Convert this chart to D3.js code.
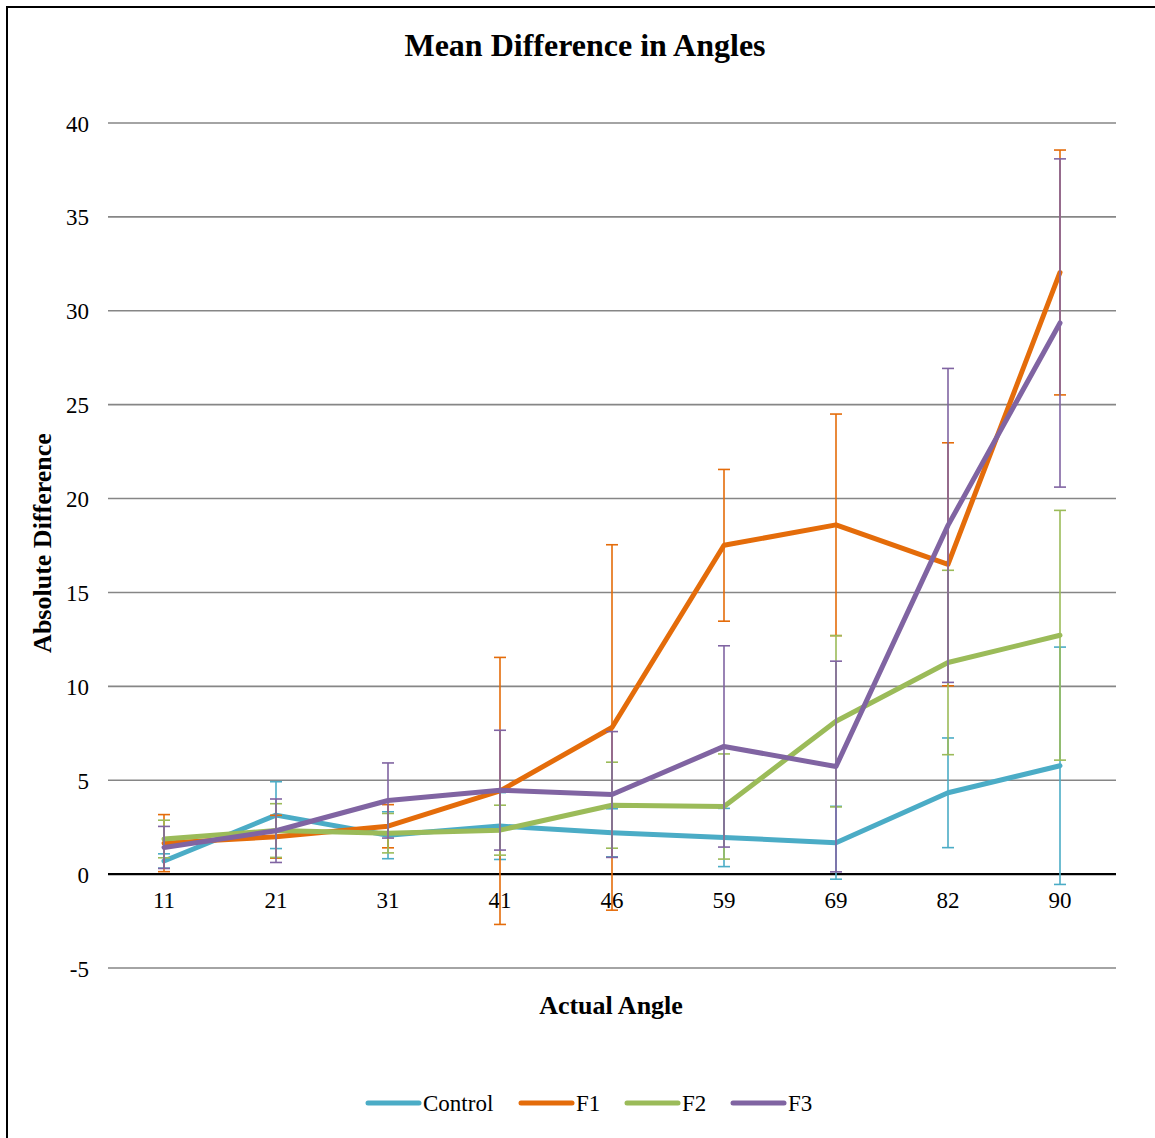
<!DOCTYPE html>
<html>
<head>
<meta charset="utf-8">
<script src="https://cdn.jsdelivr.net/npm/d3@7/dist/d3.min.js"></script>
<style>
  html, body { margin: 0; padding: 0; background: #fff; }
  svg { display: block; }
  text { font-family: "Liberation Serif", "Times New Roman", serif; fill: #000; }
</style>
</head>
<body>
<svg id="chart" width="1155" height="1138"></svg>
<script>
// ---- Data ----
const categories = ["11", "21", "31", "41", "46", "59", "69", "82", "90"];
const seriesNames = ["Control", "F1", "F2", "F3"];
const controlMean = [0.70, 3.14, 2.07, 2.56, 2.20, 1.95, 1.67, 4.33, 5.77];
const controlErr  = [0.38, 1.78, 1.25, 1.78, 1.28, 1.55, 1.94, 2.92, 6.32];
const f1Mean = [1.65, 1.99, 2.55, 4.43, 7.81, 17.51, 18.60, 16.50, 32.04];
const f1Err  = [1.52, 1.14, 1.15, 7.11, 9.73, 4.04, 5.90, 6.47, 6.52];
const f2Mean = [1.87, 2.32, 2.18, 2.34, 3.67, 3.60, 8.14, 11.27, 12.72];
const f2Err  = [1.00, 1.43, 1.05, 1.33, 2.29, 2.80, 4.56, 4.91, 6.65];
const f3Mean = [1.42, 2.31, 3.92, 4.47, 4.24, 6.80, 5.73, 18.57, 29.35];
const f3Err  = [1.12, 1.69, 2.00, 3.19, 3.35, 5.36, 5.61, 8.36, 8.74];
const yTicks = [-5, 0, 5, 10, 15, 20, 25, 30, 35, 40];
const colors = ["#4BACC6", "#E46C0A", "#9BBB59", "#8064A2"];

const series = [
  { name: seriesNames[0], mean: controlMean, err: controlErr, color: colors[0] },
  { name: seriesNames[1], mean: f1Mean, err: f1Err, color: colors[1] },
  { name: seriesNames[2], mean: f2Mean, err: f2Err, color: colors[2] },
  { name: seriesNames[3], mean: f3Mean, err: f3Err, color: colors[3] }
];

const svg = d3.select("#chart");

// outer border (chart area frame)
svg.append("rect")
  .attr("x", 7).attr("y", 7).attr("width", 1200).attr("height", 1200)
  .attr("fill", "none").attr("stroke", "#000").attr("stroke-width", 2);

const plot = { left: 108, right: 1116, top: 123, bottom: 968 };

const x = d3.scaleBand().domain(categories).range([plot.left, plot.right]).padding(0);
const y = d3.scaleLinear().domain([-5, 40]).range([plot.bottom, plot.top]);
const cx = c => x(c) + x.bandwidth() / 2;

// gridlines
const grid = svg.append("g");
grid.selectAll("line").data(yTicks.filter(t => t !== 0)).join("line")
  .attr("x1", plot.left).attr("x2", plot.right)
  .attr("y1", d => y(d)).attr("y2", d => y(d))
  .attr("stroke", "#868686").attr("stroke-width", 1.6);

// y axis labels via d3 axis
const yAxis = svg.append("g")
  .attr("transform", `translate(${plot.left - 19},0)`)
  .call(d3.axisLeft(y).tickValues(yTicks).tickSize(0).tickPadding(0).tickFormat(d => String(d)));
yAxis.select(".domain").remove();
yAxis.selectAll("text").attr("font-size", 23).attr("dy", "0.35em");

// zero line (category axis)
svg.append("line")
  .attr("x1", plot.left).attr("x2", plot.right)
  .attr("y1", y(0)).attr("y2", y(0))
  .attr("stroke", "#000").attr("stroke-width", 2.2);

// x axis labels
const xAxis = svg.append("g")
  .attr("transform", `translate(0,${y(0)})`)
  .call(d3.axisBottom(x).tickSize(0).tickPadding(18));
xAxis.select(".domain").remove();
xAxis.selectAll("text").attr("font-size", 23);

// series: error bars then line
const line = d3.line().x((d, i) => cx(categories[i])).y(d => y(d));
const capHalf = 6;
series.forEach(s => {
  const g = svg.append("g");
  const eb = g.selectAll("g.eb").data(categories.map((c, i) => ({ c, m: s.mean[i], e: s.err[i] }))).join("g");
  eb.append("line")
    .attr("x1", d => cx(d.c)).attr("x2", d => cx(d.c))
    .attr("y1", d => y(d.m + d.e)).attr("y2", d => y(d.m - d.e))
    .attr("stroke", s.color).attr("stroke-width", 1.6);
  eb.append("line")
    .attr("x1", d => cx(d.c) - capHalf).attr("x2", d => cx(d.c) + capHalf)
    .attr("y1", d => y(d.m + d.e)).attr("y2", d => y(d.m + d.e))
    .attr("stroke", s.color).attr("stroke-width", 1.6);
  eb.append("line")
    .attr("x1", d => cx(d.c) - capHalf).attr("x2", d => cx(d.c) + capHalf)
    .attr("y1", d => y(d.m - d.e)).attr("y2", d => y(d.m - d.e))
    .attr("stroke", s.color).attr("stroke-width", 1.6);
  g.append("path").datum(s.mean)
    .attr("d", line)
    .attr("fill", "none").attr("stroke", s.color).attr("stroke-width", 5)
    .attr("stroke-linecap", "round").attr("stroke-linejoin", "round");
});

// title
svg.append("text").attr("x", 585).attr("y", 56).attr("text-anchor", "middle")
  .attr("font-size", 32).attr("font-weight", "bold").text("Mean Difference in Angles");

// axis titles
svg.append("text").attr("x", 611).attr("y", 1014).attr("text-anchor", "middle")
  .attr("font-size", 26).attr("font-weight", "bold").text("Actual Angle");
svg.append("text").attr("transform", "translate(51,543) rotate(-90)").attr("text-anchor", "middle")
  .attr("font-size", 26).attr("font-weight", "bold").text("Absolute Difference");

// legend
const legendItems = [
  { x: 366, name: seriesNames[0], color: colors[0] },
  { x: 519, name: seriesNames[1], color: colors[1] },
  { x: 625, name: seriesNames[2], color: colors[2] },
  { x: 731, name: seriesNames[3], color: colors[3] }
];
const lg = svg.append("g");
legendItems.forEach(it => {
  lg.append("line").attr("x1", it.x + 2).attr("x2", it.x + 53)
    .attr("y1", 1103).attr("y2", 1103)
    .attr("stroke", it.color).attr("stroke-width", 5).attr("stroke-linecap", "round");
  lg.append("text").attr("x", it.x + 57).attr("y", 1111).attr("font-size", 23).text(it.name);
});
</script>
</body>
</html>
